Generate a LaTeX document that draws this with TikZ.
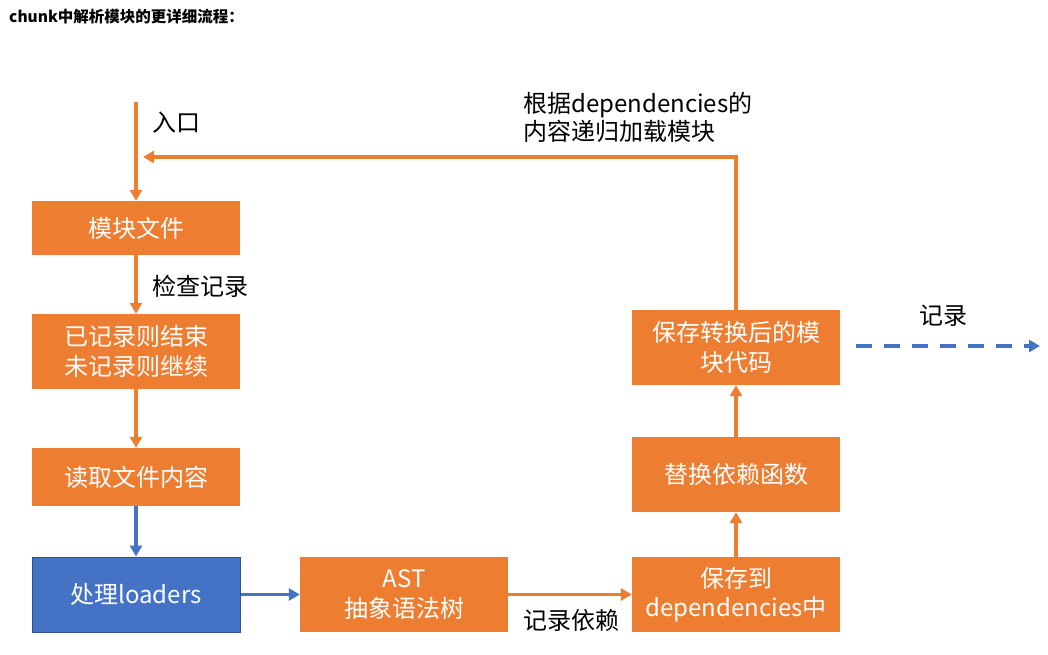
\documentclass[tikz,border=0pt]{standalone}
\usepackage{fontspec}
\newfontfamily\cjk{Noto Sans CJK SC}
\usetikzlibrary{arrows.meta}
\definecolor{orng}{HTML}{ED7D31}
\definecolor{blu}{HTML}{4472C4}
\definecolor{bluedge}{HTML}{2F528F}
\tikzset{
  box/.style={rectangle, fill=orng, minimum width=208pt, inner sep=0pt, align=center,
    text=white, font=\cjk\fontsize{24}{29.5}\selectfont},
  bluebox/.style={box, fill=blu, draw=bluedge, line width=1pt},
  lbl/.style={anchor=west, inner sep=0pt, align=left, text=black,
    font=\cjk\fontsize{24}{28}\selectfont},
  oarr/.style={draw=orng, line width=3.6pt, -{Triangle[length=11pt,width=12pt]}},
  barr/.style={draw=blu, line width=3.6pt, -{Triangle[length=11pt,width=12pt]}},
  dasharr/.style={draw=blu, line width=3.8pt, dash pattern=on 16pt off 12pt,
    -{Triangle[length=11pt,width=12pt]}},
}
\begin{document}
\begin{tikzpicture}[x=1pt,y=-1pt]
\useasboundingbox (0,0) rectangle (1048,655);
\node[anchor=west, inner sep=0pt, font=\cjk\bfseries\fontsize{15.5}{17}\selectfont] (title) at (9,17) {chunk中解析模块的更详细流程：};

\node[box, minimum height=54pt] (mod) at (136,228) {模块文件};
\node[box, minimum height=75pt] (chk) at (136,351.5) {已记录则结束\\未记录则继续};
\node[box, minimum height=58pt] (read) at (136,477) {读取文件内容};
\node[bluebox, minimum height=75pt] (ldr) at (136,594.5) {处理loaders};
\node[box, minimum height=75pt] (ast) at (404,594.5) {AST\\抽象语法树};
\node[box, minimum height=75pt] (dep) at (736,594.5) {保存到\\dependencies中};
\node[box, minimum height=75pt] (rep) at (736,474.5) {替换依赖函数};
\node[box, minimum height=75pt] (sav) at (736,347.5) {保存转换后的模\\块代码};

\coordinate (entry) at (136,102);
\coordinate (retc) at (736,157);
\coordinate (rete) at (143,157);
\coordinate (ds) at (856,346);
\coordinate (de) at (1040,346);

\node[lbl] (lentry) at (152,123) {入口};
\node[lbl] (lchk) at (152,286) {检查记录};
\node[lbl] (lret) at (523,117) {根据dependencies的\\内容递归加载模块};
\node[lbl] (ldep) at (523,620) {记录依赖};
\node[lbl] (lrec) at (919,316) {记录};

\draw[oarr] (entry) -- (mod.north);
\draw[oarr] (mod) -- (chk);
\draw[oarr] (chk) -- (read);
\draw[barr] (read) -- (ldr);
\draw[barr] (ldr) -- (ast);
\draw[oarr] (ast) -- (dep);
\draw[oarr] (dep) -- (rep);
\draw[oarr] (rep) -- (sav);
\draw[oarr] (sav.north) -- (retc) -- (rete);
\draw[dasharr] (ds) -- (de);
\end{tikzpicture}
\end{document}
